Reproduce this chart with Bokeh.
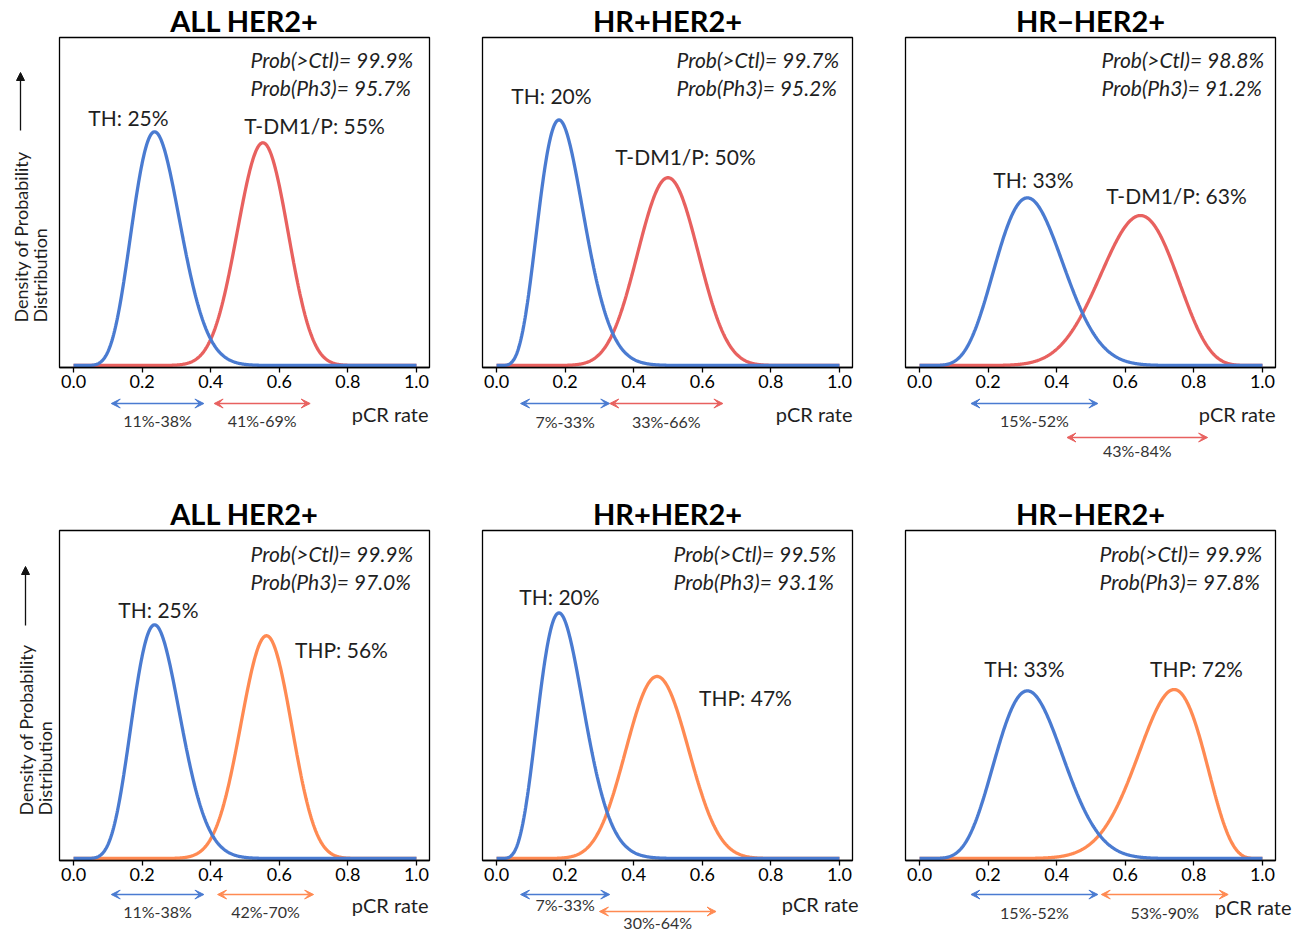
import math
import numpy as np
from bokeh.plotting import figure
from bokeh.layouts import column, row
from bokeh.models import Label, Arrow, VeeHead, NormalHead, FixedTicker, Range1d
from bokeh.embed import file_html
from bokeh.resources import INLINE

# ---------------- data ----------------
titles = ["ALL HER2+", "HR+HER2+", "HR\u2212HER2+", "ALL HER2+", "HR+HER2+", "HR\u2212HER2+"]
ctl_names = ["TH", "TH", "TH", "TH", "TH", "TH"]
trt_names = ["T-DM1/P", "T-DM1/P", "T-DM1/P", "THP", "THP", "THP"]
ctl_mean = [25, 20, 33, 25, 20, 33]
ctl_lo = [11, 7, 15, 11, 7, 15]
ctl_hi = [38, 33, 52, 38, 33, 52]
trt_mean = [55, 50, 63, 56, 47, 72]
trt_lo = [41, 33, 43, 42, 30, 53]
trt_hi = [69, 66, 84, 70, 64, 90]
prob_ctl = [99.9, 99.7, 98.8, 99.9, 99.5, 99.9]
prob_ph3 = [95.7, 95.2, 91.2, 97.0, 93.1, 97.8]
x_ticks = [0.0, 0.2, 0.4, 0.6, 0.8, 1.0]
x_tick_labels = ["0.0", "0.2", "0.4", "0.6", "0.8", "1.0"]
y_title = ["Density of Probability", "Distribution"]
x_title = "pCR rate"

# ---------------- style / layout ----------------
BLUE = "#4A7BD1"
TRT_COLORS = ["#E8615F", "#E8615F", "#E8615F", "#FF8A52", "#FF8A52", "#FF8A52"]
FONT = "Lato"
TXT = "#1f1f1f"
FW, FH = 370, 332
STRIP_W = 56
COL_W = [419, 423, 394]
IN_L = [3, 7, 7]                # frame left inside each column canvas
MAIN_TOP, MAIN_BOT = 35, 29
MAIN_H = MAIN_TOP + FH + MAIN_BOT          # 396
CI_TOP_H, CI_BOT_H = 97, 43
ROW_TOP = [0, MAIN_H + CI_TOP_H]           # page y of each main figure
TOTAL_H = 2 * MAIN_H + CI_TOP_H + CI_BOT_H
XS, XE = -0.041, 1.038
YS, YE = -0.05, 8.1

# label positions inside the frames, px from frame top-left
ctl_lab_pos = [(69, 80), (69, 58), (128, 143), (99, 79), (77, 66), (119, 139)]
trt_lab_pos = [(255, 89), (203, 120), (271, 159), (282, 120), (263, 168), (291, 139)]
prob_dx = [191, 194, 196, 191, 191, 194]
prob_dy = [(22, 50), (22, 50), (22, 50), (23, 51), (23, 51), (23, 51)]
# below-axis items, page y (px) ; x title right edge px from frame left
ci_ctl_y = [403, 403, 403, 894, 894, 894]
ci_ctl_txt_y = [420, 421, 420, 911, 904, 912]
ci_trt_y = [403, 403, 437, 894, 911, 894]
ci_trt_txt_y = [420, 421, 450, 911, 922, 912]
pcr_dx = [369, 370, 370, 369, 376, 386]
pcr_y = [413, 413, 413, 904, 903, 906]

xs = np.linspace(0, 1, 601)


def dx2x(dx):
    return XS + dx / FW * (XE - XS)


def dy2y(dy):
    return YE - dy / FH * (YE - YS)


def beta_curve(mean, lo, hi):
    m = mean / 100.0
    sd = (hi - lo) / 100.0 / 3.92
    k = m * (1 - m) / sd ** 2 - 1
    a, b = m * k, (1 - m) * k
    xx = np.clip(xs, 1e-9, 1 - 1e-9)
    lp = (a - 1) * np.log(xx) + (b - 1) * np.log(1 - xx) - (math.lgamma(a) + math.lgamma(b) - math.lgamma(a + b))
    return np.exp(lp)


def lab(p, x, y, text, size, color=TXT, align="center", style="normal", baseline="middle", angle=0.0):
    p.add_layout(Label(x=x, y=y, x_units="data", y_units="data", text=text,
                       text_font=FONT, text_font_size=size, text_color=color,
                       text_align=align, text_baseline=baseline, text_font_style=style,
                       angle=angle))


def arrow2(p, x0, x1, y, color):
    p.add_layout(Arrow(x_start=x0, y_start=y, x_end=x1, y_end=y,
                       start=VeeHead(size=9, fill_color=color, line_color=color, line_width=1),
                       end=VeeHead(size=9, fill_color=color, line_color=color, line_width=1),
                       line_color=color, line_width=1.6))


def blank(w, h, xr, yr):
    f = figure(width=w, height=h, x_range=xr, y_range=yr, output_backend="svg",
               toolbar_location=None, x_axis_location=None, y_axis_location=None,
               min_border=0)
    f.xgrid.visible = False
    f.ygrid.visible = False
    f.outline_line_color = None
    f.background_fill_color = "white"
    f.border_fill_color = "white"
    return f


# left strip with the y axis title
strip = blank(STRIP_W, TOTAL_H, Range1d(0, STRIP_W), Range1d(TOTAL_H, 0))
for (x1, x2, ybase, ay0, ay1) in [(20, 39, 322, 130, 72), (25, 44, 815, 625, 566)]:
    lab(strip, x1, ybase, y_title[0], "18px", align="left", angle=math.pi / 2)
    lab(strip, x2, ybase, y_title[1], "18px", align="left", angle=math.pi / 2)
    strip.add_layout(Arrow(x_start=x1, y_start=ay0, x_end=x1, y_end=ay1,
                           end=NormalHead(size=8, fill_color="#111111", line_color="#111111"),
                           line_color="#111111", line_width=1.3))

cols = [[], [], []]
for i in range(6):
    r, c = divmod(i, 3)
    w = COL_W[c]
    il = IN_L[c]
    p = figure(width=w, height=MAIN_H,
               x_range=Range1d(XS, XE), y_range=Range1d(YS, YE),
               output_backend="svg", toolbar_location=None,
               y_axis_location=None,
               min_border_left=il, min_border_right=w - il - FW,
               min_border_top=MAIN_TOP, min_border_bottom=MAIN_BOT)
    p.xgrid.visible = False
    p.ygrid.visible = False
    p.outline_line_color = "black"
    p.outline_line_width = 1.3
    p.background_fill_color = "white"
    p.border_fill_color = "white"

    p.title.text = titles[i]
    p.title.align = "center"
    p.title.text_font = FONT
    p.title.text_font_size = "29px"
    p.title.text_font_style = "bold"
    p.title.text_color = "black"
    p.title.standoff = 0

    ax = p.xaxis[0]
    ax.ticker = FixedTicker(ticks=x_ticks)
    ax.major_label_overrides = {t: s for t, s in zip(x_ticks, x_tick_labels)}
    ax.axis_line_color = "black"
    ax.axis_line_width = 1.3
    ax.major_tick_line_color = "black"
    ax.major_tick_line_width = 1.3
    ax.major_tick_out = 5
    ax.major_tick_in = 0
    ax.minor_tick_line_color = None
    ax.major_label_standoff = 2
    ax.major_label_text_font = FONT
    ax.major_label_text_font_size = "18px"
    ax.major_label_text_color = "black"

    # density curves
    p.line(xs, beta_curve(trt_mean[i], trt_lo[i], trt_hi[i]), line_width=3.3, line_color=TRT_COLORS[i])
    p.line(xs, beta_curve(ctl_mean[i], ctl_lo[i], ctl_hi[i]), line_width=3.3, line_color=BLUE)

    # probabilities
    lab(p, dx2x(prob_dx[i]), dy2y(prob_dy[i][0]), f"Prob(>Ctl)= {prob_ctl[i]:.1f}%", "21px", align="left", style="italic")
    lab(p, dx2x(prob_dx[i]), dy2y(prob_dy[i][1]), f"Prob(Ph3)= {prob_ph3[i]:.1f}%", "21px", align="left", style="italic")

    # arm labels
    cx, cy = ctl_lab_pos[i]
    lab(p, dx2x(cx), dy2y(cy), f"{ctl_names[i]}: {ctl_mean[i]}%", "21px")
    tx, ty = trt_lab_pos[i]
    lab(p, dx2x(tx), dy2y(ty), f"{trt_names[i]}: {trt_mean[i]}%", "21px")

    # strip below the axis: credible intervals and x title (same x scale as the panel)
    k = FW / (XE - XS)
    ci_h = CI_TOP_H if r == 0 else CI_BOT_H
    top = ROW_TOP[r] + MAIN_H
    q = blank(w, ci_h, Range1d(XS - il / k, XS + (w - il) / k), Range1d(top + ci_h, top))
    arrow2(q, ctl_lo[i] / 100, ctl_hi[i] / 100, ci_ctl_y[i], BLUE)
    lab(q, (ctl_lo[i] + ctl_hi[i]) / 200, ci_ctl_txt_y[i], f"{ctl_lo[i]}%-{ctl_hi[i]}%", "16px", color="#333333")
    arrow2(q, trt_lo[i] / 100, trt_hi[i] / 100, ci_trt_y[i], TRT_COLORS[i])
    lab(q, (trt_lo[i] + trt_hi[i]) / 200, ci_trt_txt_y[i], f"{trt_lo[i]}%-{trt_hi[i]}%", "16px", color="#333333")
    lab(q, dx2x(pcr_dx[i]), pcr_y[i], x_title, "20px", align="right")

    cols[c].extend([p, row(q)])

layout = row(strip, column(*cols[0]), column(*cols[1]), column(*cols[2]))
open("out.html", "w").write(file_html(layout, INLINE))
